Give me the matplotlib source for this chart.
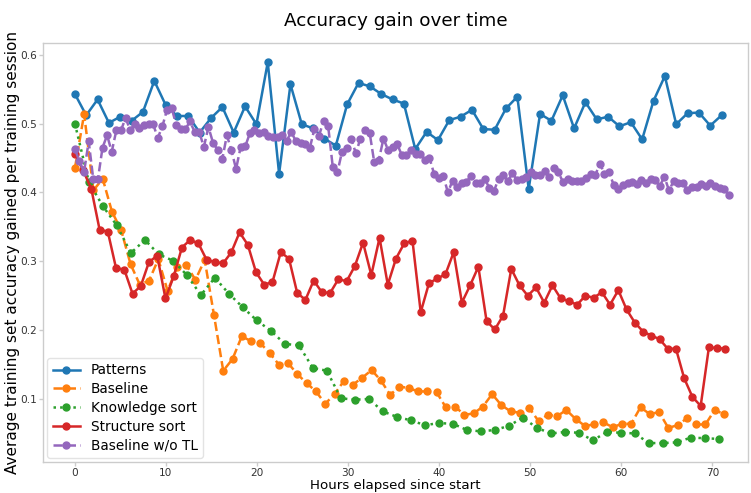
import numpy as np
import matplotlib
matplotlib.use("Agg")
import matplotlib.pyplot as plt

# ---------------- data ----------------
patterns_step = 1.2456   # hours between samples
patterns_acc = [0.543, 0.512, 0.535, 0.501, 0.510, 0.504, 0.517, 0.562, 0.527, 0.511,
                0.511, 0.487, 0.508, 0.524, 0.487, 0.525, 0.499, 0.589, 0.427, 0.557,
                0.499, 0.493, 0.478, 0.468, 0.528, 0.559, 0.554, 0.543, 0.535, 0.529,
                0.463, 0.488, 0.476, 0.505, 0.510, 0.520, 0.492, 0.491, 0.522, 0.539,
                0.405, 0.514, 0.504, 0.541, 0.493, 0.531, 0.506, 0.510, 0.496, 0.502,
                0.477, 0.533, 0.569, 0.499, 0.515, 0.516, 0.497, 0.512]

baseline_step = 1.018
baseline_acc = [0.435, 0.514, 0.403, 0.420, 0.372, 0.345, 0.296, 0.266, 0.272, 0.303,
                0.257, 0.291, 0.295, 0.273, 0.302, 0.222, 0.141, 0.158, 0.191, 0.184,
                0.181, 0.167, 0.150, 0.152, 0.136, 0.123, 0.111, 0.093, 0.107, 0.126,
                0.121, 0.131, 0.142, 0.127, 0.106, 0.118, 0.116, 0.111, 0.111, 0.110,
                0.088, 0.089, 0.077, 0.079, 0.089, 0.107, 0.091, 0.082, 0.080, 0.087,
                0.068, 0.077, 0.075, 0.084, 0.071, 0.061, 0.063, 0.066, 0.059, 0.064,
                0.064, 0.088, 0.078, 0.081, 0.058, 0.062, 0.072, 0.063, 0.063, 0.084,
                0.078]

knowledge_step = 1.537
knowledge_acc = [0.500, 0.415, 0.380, 0.352, 0.312, 0.331, 0.310, 0.301, 0.280, 0.251,
                 0.276, 0.253, 0.233, 0.214, 0.199, 0.180, 0.178, 0.145, 0.141, 0.101,
                 0.099, 0.100, 0.082, 0.074, 0.069, 0.062, 0.065, 0.064, 0.055, 0.053,
                 0.055, 0.061, 0.073, 0.058, 0.050, 0.052, 0.051, 0.040, 0.052, 0.051,
                 0.050, 0.036, 0.036, 0.037, 0.044, 0.043, 0.042]

structure_step = 0.904
structure_acc = [0.456, 0.432, 0.405, 0.346, 0.343, 0.290, 0.288, 0.253, 0.264, 0.299,
                 0.308, 0.246, 0.278, 0.320, 0.331, 0.326, 0.302, 0.299, 0.297, 0.313,
                 0.342, 0.324, 0.284, 0.266, 0.270, 0.313, 0.304, 0.254, 0.244, 0.272,
                 0.255, 0.254, 0.274, 0.271, 0.293, 0.327, 0.280, 0.334, 0.266, 0.304,
                 0.326, 0.330, 0.226, 0.268, 0.275, 0.281, 0.313, 0.240, 0.265, 0.292,
                 0.213, 0.201, 0.221, 0.289, 0.265, 0.250, 0.262, 0.240, 0.265, 0.246,
                 0.242, 0.237, 0.250, 0.247, 0.255, 0.237, 0.258, 0.230, 0.211, 0.198,
                 0.192, 0.187, 0.173, 0.173, 0.130, 0.103, 0.090, 0.175, 0.174, 0.173]

wo_tl_step = 0.5056
wo_tl_acc = [0.463, 0.445, 0.430, 0.474, 0.419, 0.419, 0.465, 0.483, 0.459, 0.490,
             0.490, 0.508, 0.491, 0.499, 0.494, 0.498, 0.499, 0.499, 0.479, 0.496,
             0.520, 0.523, 0.498, 0.492, 0.492, 0.503, 0.488, 0.488, 0.466, 0.495,
             0.472, 0.462, 0.448, 0.483, 0.461, 0.434, 0.466, 0.467, 0.486, 0.491,
             0.487, 0.488, 0.482, 0.480, 0.481, 0.484, 0.475, 0.488, 0.474, 0.472,
             0.470, 0.464, 0.492, 0.482, 0.504, 0.496, 0.437, 0.429, 0.459, 0.465,
             0.478, 0.457, 0.478, 0.491, 0.487, 0.444, 0.447, 0.478, 0.462, 0.466,
             0.470, 0.454, 0.454, 0.461, 0.456, 0.456, 0.447, 0.450, 0.427, 0.421,
             0.424, 0.400, 0.417, 0.408, 0.414, 0.415, 0.424, 0.413, 0.414, 0.419,
             0.407, 0.402, 0.420, 0.425, 0.416, 0.428, 0.418, 0.420, 0.422, 0.429,
             0.425, 0.425, 0.431, 0.423, 0.435, 0.429, 0.415, 0.420, 0.417, 0.417,
             0.416, 0.421, 0.427, 0.425, 0.442, 0.427, 0.429, 0.411, 0.405, 0.411,
             0.413, 0.415, 0.412, 0.418, 0.414, 0.420, 0.418, 0.409, 0.423, 0.403,
             0.416, 0.413, 0.413, 0.404, 0.408, 0.408, 0.412, 0.409, 0.413, 0.410,
             0.406, 0.405, 0.396]

series = [
    ("Patterns", patterns_step, patterns_acc, "#1f77b4", "-"),
    ("Baseline", baseline_step, baseline_acc, "#ff7f0e", "--"),
    ("Knowledge sort", knowledge_step, knowledge_acc, "#2ca02c", ":"),
    ("Structure sort", structure_step, structure_acc, "#d62728", "-"),
    ("Baseline w/o TL", wo_tl_step, wo_tl_acc, "#9467bd", "--"),
]

x_ticks = [0, 10, 20, 30, 40, 50, 60, 70]
y_ticks = [0.1, 0.2, 0.3, 0.4, 0.5, 0.6]

# ---------------- plot ----------------
fig = plt.figure(figsize=(7.51, 4.93), dpi=100)
ax = fig.add_axes([43 / 751, 1 - 462 / 493, (748 - 43) / 751, (462 - 43) / 493])

for label, step, acc, color, ls in series:
    hours = np.arange(len(acc)) * step
    ax.plot(hours, acc, ls, color=color, marker="o", markersize=5,
            linewidth=1.8, label=label)

ax.set_xlim(-3.5, 73.9)
ax.set_ylim(0.0085, 0.617)
ax.set_xticks(x_ticks)
ax.set_yticks(y_ticks)
ax.set_xticklabels([str(t) for t in x_ticks])
ax.set_yticklabels([f"{t:.1f}" for t in y_ticks])

for s in ax.spines.values():
    s.set_color("#cccccc")
    s.set_linewidth(1.0)
ax.tick_params(axis="both", colors="#333333", labelsize=7.6, length=3, pad=1.2,
               color="#cccccc", width=1)

ax.set_title("Accuracy gain over time", fontsize=13.2, pad=12)
ax.set_xlabel("Hours elapsed since start", fontsize=9.6, labelpad=1)
ax.set_ylabel("Average training set accuracy gained per training session",
              fontsize=11, labelpad=0.5)

leg = ax.legend(loc="lower left", fontsize=9.8, frameon=True, borderaxespad=0.3,
                handlelength=2.0, labelspacing=0.35)
leg.get_frame().set_edgecolor("#dddddd")

fig.savefig("out.png", dpi=100)
